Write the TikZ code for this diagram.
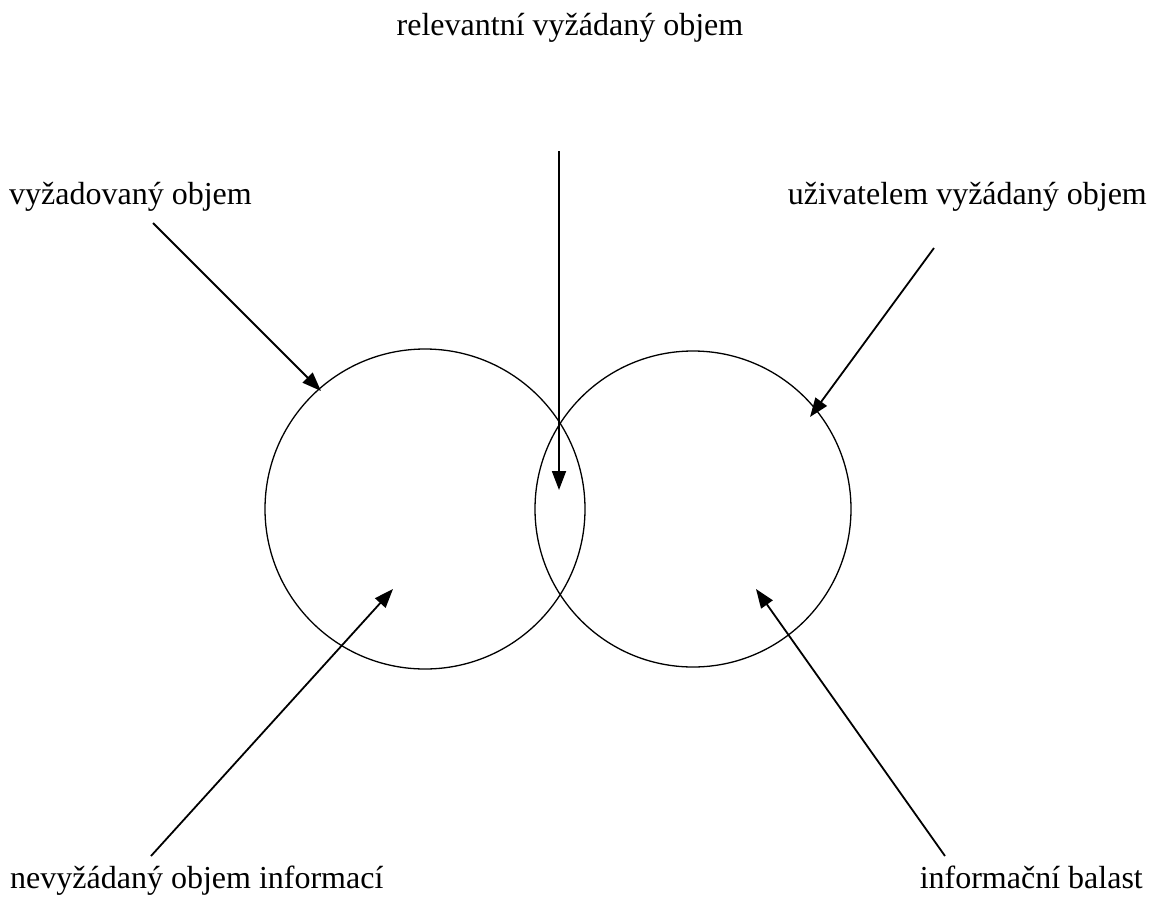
\documentclass[tikz,border=0pt]{standalone}
\usepackage{fontspec}
\setmainfont{Liberation Serif}
\usetikzlibrary{arrows.meta}
\begin{document}
\begin{tikzpicture}[x=1pt,y=-1pt,
  lbl/.style={font=\fontsize{32}{38}\selectfont, inner sep=0pt},
  arr/.style={line width=1.8pt, -{Triangle[length=19pt,width=14pt]}},
  circ/.style={line width=1.3pt}]
\useasboundingbox (0,0) rectangle (1151,897);
% circles
\draw[circ] (425,509) circle[radius=160];
\draw[circ] (693,509) circle[radius=158];
% labels
\node[lbl, anchor=base] (top) at (570,35) {relevantní vyžádaný objem};
\node[lbl, anchor=base west] (lt) at (9,204) {vyžadovaný objem};
\node[lbl, anchor=base east] (rt) at (1147,204) {uživatelem vyžádaný objem};
\node[lbl, anchor=base west] (lb) at (10,888) {nevyžádaný objem informací};
\node[lbl, anchor=base east] (rb) at (1143,888) {informační balast};
% arrow endpoints
\coordinate (a1s) at (153,223); \coordinate (a1e) at (321,391);
\coordinate (a2s) at (559,151); \coordinate (a2e) at (559,490);
\coordinate (a3s) at (934,248); \coordinate (a3e) at (810,417);
\coordinate (a4s) at (151,856); \coordinate (a4e) at (393,589);
\coordinate (a5s) at (945,856); \coordinate (a5e) at (756,589);
\draw[arr] (a1s) -- (a1e);
\draw[arr] (a2s) -- (a2e);
\draw[arr] (a3s) -- (a3e);
\draw[arr] (a4s) -- (a4e);
\draw[arr] (a5s) -- (a5e);
\end{tikzpicture}
\end{document}
